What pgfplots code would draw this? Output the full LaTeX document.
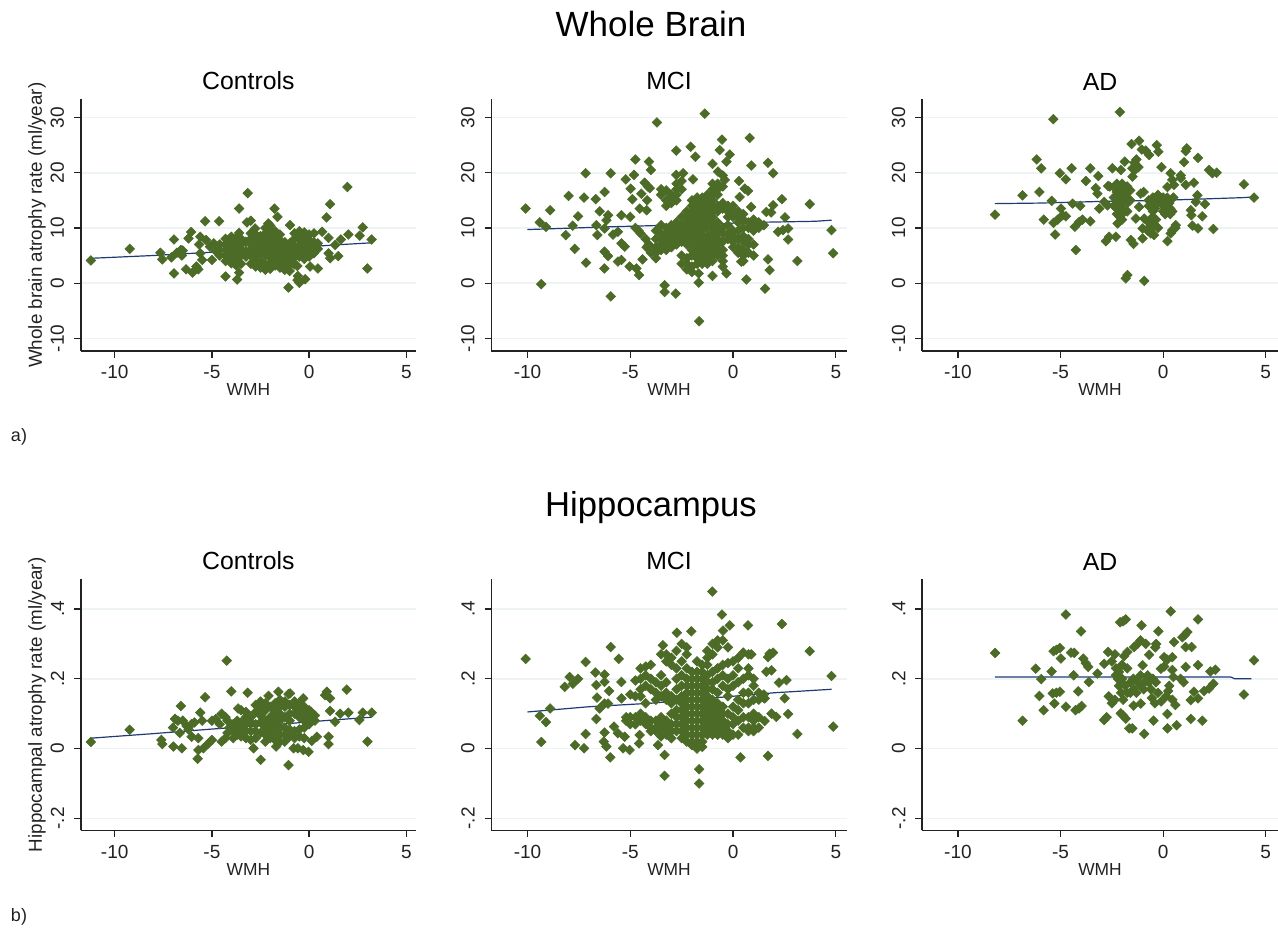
\documentclass[border=0pt]{standalone}
\usepackage{pgfplots}
\pgfplotsset{compat=1.18}
\usepackage{fontspec}
\setmainfont{Liberation Sans}
\definecolor{ptgreen}{HTML}{4C6B26}
\definecolor{fitblue}{HTML}{1F3B73}
\definecolor{gridc}{HTML}{EEF3F4}
\definecolor{inkc}{HTML}{222222}
\pgfplotsset{
  panel/.style={
    scale only axis,
    anchor=south west,
    axis x line=bottom, axis y line=left,
    axis line style={-, inkc, line width=0.8pt},
    tick style={inkc, line width=0.6pt},
    tick align=outside,
    major tick length=3.3pt,
    ymajorgrids,
    grid style={gridc, line width=0.8pt},
    clip=false,
    xtick={-10,-5,0,5},
    xticklabels={-10,-5,0,5},
    ticklabel style={font=\fontsize{9.5}{11}\selectfont, text=inkc},
    yticklabel style={rotate=90, anchor=south, yshift=1.5pt},
    xticklabel style={yshift=-0.5pt},
    xlabel={WMH},
    xlabel style={font=\fontsize{8.7}{10}\selectfont, text=inkc, yshift=4.5pt},
    title style={font=\fontsize{12.4}{14}\selectfont, text=black, yshift=-5pt},
    ylabel style={font=\fontsize{9.4}{11}\selectfont, text=inkc},
  },
  toprow/.style={panel, height=125.85pt, ymin=-12.3, ymax=33.3,
    ytick={-10,0,10,20,30}, yticklabels={-10,0,10,20,30}},
  botrow/.style={panel, height=125.5pt, ymin=-0.234, ymax=0.485,
    ytick={-0.2,0,0.2,0.4}, yticklabels={-.2,0,.2,.4}},
  colA/.style={width=167.65pt, xmin=-11.75, xmax=5.5},
  colB/.style={width=177.7pt, xmin=-11.76, xmax=5.53},
  colC/.style={width=178pt, xmin=-11.75, xmax=5.6},
  pts/.style={only marks, mark=square*, mark size=1.7pt,
    mark options={rotate=45, fill=ptgreen, draw=ptgreen, line width=0.3pt}},
  fit/.style={no marks, fitblue, line width=0.6pt},
}
\begin{document}
\begin{tikzpicture}
\path[use as bounding box] (0,0) rectangle (639pt,464pt);
\node[font=\fontsize{17.5}{20}\selectfont] at (325.5pt,452pt) {Whole Brain};
\node[font=\fontsize{17.3}{20}\selectfont] at (325.5pt,210pt) {Hippocampus};
\node[font=\fontsize{9}{11}\selectfont, text=inkc] at (9.5pt,245.5pt) {a)};
\node[font=\fontsize{9}{11}\selectfont, text=inkc] at (9.5pt,5.8pt) {b)};

% top row, whole brain
\begin{axis}[toprow, colA, at={(40.35pt,288.5pt)}, title={Controls},
  ylabel={Whole brain atrophy rate (ml/year)}, ylabel style={yshift=-4.5pt}]
\addplot[fit] coordinates {(-11.2,4.5) (-8,5.0) (-5,5.6) (0,6.6) (1.5,6.95) (3.2,7.3)};
\addplot[pts] coordinates {
(-11.23,4.1) (-9.23,6.2) (-7.65,5.5) (-7.55,4.3) (-7.08,4.65) (-6.95,7.9) (-6.95,1.75)
(-6.8,5.5) (-6.6,6) (-6.5,5.9) (-6.55,5) (-6.2,8.1) (-6.07,9.25) (-6.33,2.5) (-6,1.9)
(-5.8,3) (-5.5,4.2) (-5.6,5.4) (-5.66,7) (-5.6,8.4) (-5.35,11.2) (-4.63,11.2) (-5,4.2)
(-5.3,7.8) (-5.1,6.6) (-4.9,7.2) (-4.8,5.8) (-5.7,2.5)
(1.97,17.4) (-3.16,16.3) (1.08,14.3) (-3.6,13.5) (-1.78,13.5) (-1.63,12) (0.9,11.9)
(-3,11.3) (-3.2,11) (-0.98,10.5) (2.76,10.1) (-2.1,10.8) (-2.78,9.9) (-3.6,9.1) (0.67,9.3)
(1,8.2) (2.02,8.8) (2.6,8.6) (1.63,7.9) (3.22,7.9) (1.34,6.9) (1,5.4) (1.08,4.5) (1.5,4.9)
(3,2.65) (0.45,2.65) (0.05,3) (-0.6,3.1) (-0.2,0.7) (-0.6,0.55) (-0.58,1.3) (-0.5,0.05)
(-1.06,-0.8) (-4.3,1.2) (-3.6,1.9) (-3.7,0.65)
(-4.6,5) (-4.6,6) (-4.6,7)
(-4.3,4) (-4.3,5) (-4.3,6) (-4.3,7) (-4.3,8)
(-4,3.6) (-4,4.6) (-4,5.6) (-4,6.6) (-4,7.6) (-4,8.4)
(-3.75,3.2) (-3.75,4.2) (-3.75,5.2) (-3.75,6.2) (-3.75,7.2) (-3.75,8.2)
(-3.5,3.5) (-3.5,5) (-3.5,6) (-3.5,7) (-3.5,8)
(-3.25,4.8) (-3.25,5.8) (-3.25,7.5)
(-3,3.5) (-3,5) (-3,6) (-3,7) (-3,8) (-3,9)
(-2.75,3) (-2.75,4) (-2.75,5) (-2.75,5.9) (-2.75,6.9) (-2.75,7.9) (-2.75,8.8)
(-2.5,2.8) (-2.5,4) (-2.5,5.5) (-2.5,6.5) (-2.5,7.5) (-2.5,8.5)
(-2.25,2.4) (-2.25,3.4) (-2.25,5) (-2.25,6) (-2.25,7) (-2.25,8) (-2.25,9) (-2.25,10)
(-2,2.6) (-2,3.6) (-2,4.6) (-2,5.6) (-2,6.6) (-2,7.6) (-2,8.6) (-2,9.6) (-2,10.4)
(-1.75,3.2) (-1.75,4.4) (-1.75,5.4) (-1.75,6.4) (-1.75,7.4) (-1.75,8.4) (-1.75,9.4)
(-1.5,2.8) (-1.5,3.8) (-1.5,4.8) (-1.5,5.8) (-1.5,6.8) (-1.5,7.8) (-1.5,8.8)
(-1.25,2.4) (-1.25,3.4) (-1.25,4.4) (-1.25,5.4) (-1.25,6.4) (-1.25,7.4)
(-1,2.2) (-1,3.2) (-1,4.2) (-1,5.2) (-1,6.2) (-1,7.2)
(-.75,3.4) (-.75,4.6) (-.75,5.6) (-.75,6.6) (-.75,8) (-.75,9)
(-.5,4.8) (-.5,5.8) (-.5,6.8) (-.5,7.8) (-.5,8.8) (-.5,9.4)
(-.25,4.4) (-.25,5.4) (-.25,6.4) (-.25,7.4) (-.25,8.4) (-.25,9.2)
(0,4.8) (0,5.8) (0,6.8) (0,7.8) (0,8.8)
(.25,5.4) (.25,6.4) (.25,7.4) (.25,9) (.45,6.2) (.45,7.2)
};
\end{axis}

\begin{axis}[toprow, colB, at={(245.65pt,288.5pt)}, title={MCI}]
\addplot[fit] coordinates {(-10,9.7) (-6,10.2) (-2,10.6) (1,11) (4,11.2) (4.8,11.4)};
\addplot[pts] coordinates {
(-10.09,13.5) (-9.4,11) (-9.1,10.2) (-9.33,-0.2) (-8.9,13.2) (-8,15.8) (-8.14,8.7) (-7.8,10.4)
(-7.7,6.2) (-7.54,12.1) (-7.25,15.5) (-7.17,19.9) (-7.15,3.7) (-6.68,15.2) (-6.49,13) (-6.6,8.7)
(-6.65,10.5) (-6.25,16.5) (-6.26,2.65) (-5.95,19.9) (-5.95,-2.4) (-6.08,12.3) (-6.16,11.4)
(-6.25,9.9) (-6.25,5.7) (-6.08,4.9) (-5.84,8.8) (-5.6,9.3) (-5.43,12.3) (-5.22,18.8) (-5.43,7.2)
(-5.27,6.6) (-5.43,4.2) (-5.6,3.9) (-4.98,17.1) (-4.9,15.2) (-5,12) (-4.82,19.6) (-4.75,22.4)
(-5.03,3) (-4.7,2.65) (-4.57,1.45) (-4.09,22) (-4,20.5) (-4.3,18.2) (-4.14,17.5) (-4.05,17.2)
(-4.46,16.2) (-4.18,15) (-4.54,13.5) (-4.2,13.2) (-3.7,29.1) (-1.38,30.7) (-2.76,24) (-2.06,24.7)
(-1.83,22.9) (-0.54,26) (0.81,26.3) (-0.65,24.1) (-0.16,23.3) (-0.32,22) (-1,21.6) (0.89,21.3)
(1.7,21.8) (1.95,19.9) (-2.43,19.9) (-2.76,19.6) (-1.95,18.8) (-0.73,20.2) (-0.5,19.5) (-0.4,18.7)
(0.29,18.5) (0.57,17.1) (0.73,16.7) (0.32,15.6) (2.38,15.2) (3.73,14.3) (0.88,13.8) (1.95,14.1)
(1.62,12.9) (1.85,12.8) (2.53,11.9) (2.43,9.6) (2.19,9.3) (2.68,9.9) (2.68,7.9) (4.79,9.6)
(4.87,5.4) (3.13,4) (1.7,4.3) (1.78,2.35) (1.56,-1) (0.65,0.65) (-1,1.3) (-0.32,1.75) (-1.67,1.75)
(-1.67,0.1) (-1.65,-6.9) (-3.33,-0.4) (-3.33,-1.6) (-2.79,-1.9) (0.4,3.9)
(-4.75,10) (-4.5,9) (-4.25,8) (-4.2,6.5) (-4,5.5) (-4.4,4.3) (-4.6,9.5) (-4.1,7)
(-3.75,4.5) (-3.75,5.5) (-3.75,6.5) (-3.75,8) (-3.75,9.5)
(-3.5,6) (-3.5,7) (-3.5,8) (-3.5,9) (-3.5,10.5) (-3.5,16) (-3.5,17)
(-3.25,6) (-3.25,7) (-3.25,8) (-3.25,9) (-3.25,10) (-3.25,14) (-3.25,15) (-3.25,16.8)
(-3,6.5) (-3,7.5) (-3,8.5) (-3,9.5) (-3,10.5) (-3,14.5) (-3,15.5) (-3,16)
(-2.75,7) (-2.75,8) (-2.75,9) (-2.75,10) (-2.75,11) (-2.75,15) (-2.75,16) (-2.75,17) (-2.75,18)
(-2.5,3.5) (-2.5,5) (-2.5,7.5) (-2.5,8.5) (-2.5,9.5) (-2.5,10.5) (-2.5,12) (-2.5,17) (-2.5,18.5)
(-2.25,2.5) (-2.25,3.5) (-2.25,4.5) (-2.25,7) (-2.25,8) (-2.25,9) (-2.25,10) (-2.25,11) (-2.25,12) (-2.25,13)
(-2,2) (-2,3) (-2,5) (-2,6) (-2,7) (-2,8) (-2,9) (-2,10) (-2,11) (-2,12) (-2,13) (-2,14) (-2,15)
(-1.75,3.5) (-1.75,4.5) (-1.75,5.5) (-1.75,6.5) (-1.75,7.5) (-1.75,8.5) (-1.75,9.5) (-1.75,10.5) (-1.75,11.5) (-1.75,12.5) (-1.75,13.5) (-1.75,14.5) (-1.75,15.5)
(-1.5,3.5) (-1.5,4.5) (-1.5,5.5) (-1.5,6.5) (-1.5,7.5) (-1.5,8.5) (-1.5,9.5) (-1.5,10.5) (-1.5,11.5) (-1.5,12.5) (-1.5,13.5) (-1.5,14.5) (-1.5,15.5)
(-1.25,3.5) (-1.25,4.5) (-1.25,5.5) (-1.25,6.5) (-1.25,7.5) (-1.25,8.5) (-1.25,10) (-1.25,11) (-1.25,12) (-1.25,13) (-1.25,14) (-1.25,15) (-1.25,16)
(-1,4) (-1,5) (-1,6) (-1,7) (-1,8) (-1,9) (-1,10) (-1,11) (-1,12) (-1,13) (-1,14) (-1,15) (-1,16) (-1,17) (-1,18)
(-.75,5) (-.75,6) (-.75,7) (-.75,8) (-.75,9) (-.75,10) (-.75,11) (-.75,13) (-.75,14) (-.75,16) (-.75,17) (-.75,18)
(-.5,3) (-.5,4) (-.5,5) (-.5,6) (-.5,7.5) (-.5,9) (-.5,10) (-.5,13.5) (-.5,14.5) (-.5,17.5)
(-.25,8) (-.25,9) (-.25,10.5) (-.25,12) (-.25,13) (-.25,14)
(0,6.5) (0,7.5) (0,8.5) (0,9.5) (0,12) (0,13) (0,14)
(.25,5.5) (.25,6.5) (.25,8) (.25,9.5) (.25,11) (.25,12) (.25,13)
(.5,4) (.5,5) (.5,6) (.5,7.5) (.5,8.5) (.5,10) (.5,11.5) (.5,12.5)
(.75,5.5) (.75,7) (.75,8) (.75,10) (.75,11)
(1,5) (1,7) (1,9.5) (1,10.5) (1,11.5) (1.25,10) (1.25,11) (1.5,10.5)
};
\end{axis}

\begin{axis}[toprow, colC, at={(461pt,288.5pt)}, title={AD}]
\addplot[fit] coordinates {(-8.2,14.4) (-6,14.5) (-3,14.8) (0,15) (4,15.5) (4.3,15.6)};
\addplot[pts] coordinates {
(-8.19,12.4) (-6.85,15.9) (-6.16,22.4) (-5.94,20.8) (-6.03,16.5) (-5.43,14.9) (-5.35,29.7)
(-5.82,11.5) (-5.26,8.8) (-5.34,10.9) (-5.14,11.5) (-4.9,12.3) (-4.74,12.1) (-4.98,13.5)
(-5.03,19.9) (-4.74,18.8) (-4.46,20.8) (-4.41,14.4) (-4.04,14) (-3.76,18.5) (-3.55,20.8)
(-3.16,19.4) (-4.25,6) (-4.3,10.2) (-4.09,11.1) (-3.93,11.5) (-3.55,11.2) (-3.28,17.2) (-3.2,16.2)
(-2.87,14.7) (-3.11,13.5) (-2.71,14.1) (-2.11,31) (-2.68,17.6) (-2.47,20.8) (-2.06,20.5)
(-1.87,22) (-1.54,25.2) (-1.17,25.8) (-1.5,20.8) (-1.4,21.8) (-1.3,22.4) (-1.2,21) (-1.35,20.6)
(-1.04,24.2) (-0.68,23.2) (-0.85,24) (-0.31,25) (-0.23,23.8) (-0.08,21) (.37,19.9) (.45,18.7)
(.86,19.5) (.86,19) (1.02,21.9) (1.15,24.4) (1.1,23.9) (1.7,22.7) (2.24,20.5) (2.4,19.9) (2.61,20)
(3.94,17.9) (4.43,15.5) (2.45,9.8) (1.91,12.1) (2.04,14.3) (1.67,15.9) (1.59,14.7) (1.1,17.8)
(1.5,18.2) (1.35,13.2) (1.38,12.3) (1.43,10.4) (1.7,9.9) (.45,9.6) (.62,10.5) (.37,9) (.21,7.6)
(.21,17.4) (.53,17.8) (-1.74,1.45) (-1.82,.85) (-.92,.4) (-1.44,7.1) (-1.57,7.8) (-1,8.1)
(-.44,8.7) (-2.79,7.6) (-2.63,8.4) (-2.3,8.4) (-2.22,10.8) (-1.09,16.2) (-.95,16.5) (-1.17,13.8)
(-1.33,11.7) (-.92,11.7) (-1,9.9) (-1.49,19.3) (-.6,10.5) (-.75,9.5)
(-2.6,17.5) (-2.4,17.4) (-2.4,14) (-2.4,15.5) (-2.25,12.5) (-2.25,13.5) (-2.25,14.5) (-2.25,15.5) (-2.25,16.5) (-2.25,17.5) (-2.25,18)
(-2,11.5) (-2,12.5) (-2,13.5) (-2,14.5) (-2,15.5) (-2,17) (-2,18)
(-1.75,13) (-1.75,14.5) (-1.75,15.5) (-1.75,16.5) (-1.75,17.5) (-1.6,16.8) (-1.6,15)
(-.7,11) (-.7,10) (-.7,14) (-.7,15) (-.6,9) (-.5,11) (-.5,12) (-.5,13) (-.5,14) (-.5,15.5)
(-.25,10) (-.25,15) (-.25,16) (0,13) (0,14) (0,15.5) (.1,12.5) (.2,13) (.2,14) (.2,15.5)
(.35,12.5) (.35,13.5) (.45,13) (.5,15.5) (.6,10)
(-2.1,12) (-1.9,13) (-1.9,16) (-2.1,16.5) (-.4,13.5) (-.3,14.5) (-.4,15) (-.1,14.5) (.1,14) (.3,14.5) (-.55,10) (-.35,11.5)
};
\end{axis}

% bottom row, hippocampus
\begin{axis}[botrow, colA, at={(40.35pt,48.85pt)}, title={Controls},
  ylabel={Hippocampal atrophy rate (ml/year)}, ylabel style={yshift=-4.5pt}]
\addplot[fit] coordinates {(-11.2,.03) (-8,.043) (-5,.056) (-1,.072) (1,.081) (3.2,.09)};
\addplot[pts] coordinates {
(-11.23,.019) (-9.23,.054) (-7.6,.025) (-7.55,.013) (-6.98,.006) (-6.55,.001) (-5.73,-.029)
(-4.24,.252) (-4,.164) (-3.16,.16) (-5.35,.147) (-6.6,.122) (-5.6,.103) (1.94,.169) (.91,.163)
(.82,.153) (1.08,.144) (1.08,.108) (1.6,.1) (2.02,.103) (3.22,.103) (2.76,.103) (2.59,.082) (1.34,.077)
(3,.02) (1,.034) (1,.013) (.4,.034) (.14,.022) (-.03,-.009) (-.3,-.004) (-.58,.001) (-.8,.001)
(-1.06,-.047) (-2.49,-.032) (-2.86,.001) (-1.7,.006) (-2.09,.151) (-1.58,.163) (-1.06,.156) (-.98,.158)
(-.3,.144) (-5.7,-.004) (-5.44,.001) (-5.18,.015) (-5,.025) (-6.04,.034) (-5.7,.03)
(-7,.06) (-6.9,.085) (-6.75,.08) (-6.65,.045) (-6.5,.08) (-6.2,.055) (-6.05,.07) (-5.9,.075) (-6.3,.065) (-5.5,.08) (-5,.08)
(-4.8,.085) (-4.6,.07) (-4.5,.1) (-4.3,.09) (-4.2,.08) (-4.5,.02)
(-4.3,.03) (-4.2,.045) (-4.1,.06) (-3.9,.03) (-3.9,.05) (-3.9,.07) (-3.65,.115) (-3.7,.04) (-3.7,.06) (-3.7,.08)
(-3.5,.035) (-3.5,.055) (-3.5,.075) (-3.5,.11) (-3.25,.03) (-3.25,.05) (-3.25,.07) (-3.25,.09) (-3.25,.105)
(-3,.025) (-3,.05) (-3,.075) (-3,.09) (-2.75,.03) (-2.75,.05) (-2.75,.07) (-2.75,.105) (-2.75,.125)
(-2.5,.045) (-2.5,.075) (-2.5,.095) (-2.5,.115) (-2.5,.135) (-2.25,.02) (-2.25,.04) (-2.25,.06) (-2.25,.08) (-2.25,.11) (-2.25,.13)
(-2,.03) (-2,.05) (-2,.07) (-2,.09) (-2,.12) (-1.75,.025) (-1.75,.045) (-1.75,.065) (-1.75,.085) (-1.75,.105) (-1.75,.13)
(-1.5,.02) (-1.5,.04) (-1.5,.06) (-1.5,.08) (-1.5,.1) (-1.5,.12) (-1.5,.14) (-1.25,.02) (-1.25,.04) (-1.25,.06) (-1.25,.09) (-1.25,.12) (-1.25,.135)
(-1,.035) (-1,.055) (-1,.08) (-1,.1) (-1,.125) (-.75,.03) (-.75,.05) (-.75,.1) (-.75,.12) (-.75,.135)
(-.5,.035) (-.5,.055) (-.5,.09) (-.5,.11) (-.5,.13) (-.25,.03) (-.25,.06) (-.25,.08) (-.25,.1) (-.25,.12)
(0,.07) (0,.09) (0,.11) (.1,.08) (.1,.105) (.3,.08) (.3,.095)
};
\end{axis}

\begin{axis}[botrow, colB, at={(245.65pt,48.85pt)}, title={MCI}]
\addplot[fit] coordinates {(-10,.105) (-7,.12) (-4,.13) (-1,.145) (2,.16) (4.8,.17)};
\addplot[pts] coordinates {
(-10.09,.257) (-9.4,.094) (-9.1,.076) (-8.9,.115) (-9.33,.019) (-8.19,.177) (-7.95,.205) (-7.54,.2)
(-7.79,.186) (-7.17,.248) (-7.17,.042) (-7.69,.01) (-7.25,.001) (-6.7,.218) (-6.25,.212) (-6.65,.182)
(-6.25,.191) (-6.62,.146) (-6.03,.165) (-6.65,.085) (-6.49,.115) (-6.25,.129) (-6.08,.129) (-6.25,.046)
(-6.29,.02) (-6.16,.006) (-5.97,-.025) (-5.95,.291) (-5.56,.257) (-5.43,.191) (-5.43,.144) (-5.79,.063)
(-5.6,.044) (-5.27,.034) (-5.35,.001) (-5.03,-.004) (-4.57,.015) (-4.54,.039) (-3.33,-.018) (-3.33,-.078)
(-3.65,.01) (-3.41,.296) (-2.73,.332) (-2.03,.336) (-1.01,.45) (-.54,.384) (-.16,.353) (-.49,.338)
(.73,.353) (2.38,.357) (3.73,.279) (4.79,.208) (4.87,.063) (3.13,.042) (1.7,-.021) (.36,-.025)
(-1.65,-.059) (-1.65,-.1) (2.6,.196) (2.24,.189) (2.51,.144) (2.68,.099) (1.78,.272) (1.95,.275) (1.7,.262)
(1.62,.22) (1.87,.224) (.89,.27) (1.54,.144) (1.87,.1) (2.1,.091) (1.54,.079)
(-5.2,.09) (-5.2,.08) (-5,.09) (-5,.07) (-5,.155) (-4.75,.195) (-4.75,.15) (-4.75,.09) (-4.75,.07)
(-4.5,.23) (-4.5,.2) (-4.5,.17) (-4.5,.15) (-4.5,.1) (-4.5,.08) (-4.25,.235) (-4.25,.21) (-4.25,.18) (-4.25,.13) (-4.25,.09) (-4.25,.07)
(-4,.24) (-4,.2) (-4,.17) (-4,.08) (-4,.06) (-4,.05) (-3.75,.19) (-3.75,.16) (-3.75,.14) (-3.75,.08) (-3.75,.06) (-3.75,.05)
(-3.5,.27) (-3.5,.21) (-3.5,.18) (-3.5,.15) (-3.5,.09) (-3.5,.07) (-3.5,.05) (-3.5,.035)
(-3.25,.27) (-3.25,.25) (-3.25,.19) (-3.25,.16) (-3.25,.14) (-3.25,.08) (-3.25,.06) (-3.25,.04)
(-3,.26) (-3,.24) (-3,.15) (-3,.13) (-3,.1) (-3,.07) (-3,.05) (-3,.03)
(-2.75,.28) (-2.75,.23) (-2.75,.2) (-2.75,.17) (-2.75,.14) (-2.75,.11) (-2.75,.09) (-2.75,.07) (-2.75,.05)
(-2.5,.3) (-2.5,.25) (-2.5,.21) (-2.5,.18) (-2.5,.15) (-2.5,.13) (-2.5,.11) (-2.5,.09) (-2.5,.07) (-2.5,.05) (-2.5,.03)
(-2.25,.29) (-2.25,.27) (-2.25,.23) (-2.25,.2) (-2.25,.18) (-2.25,.16) (-2.25,.14) (-2.25,.12) (-2.25,.1) (-2.25,.08) (-2.25,.06) (-2.25,.04) (-2.25,.02)
(-2,.22) (-2,.2) (-2,.18) (-2,.16) (-2,.14) (-2,.12) (-2,.1) (-2,.08) (-2,.06) (-2,.04) (-2,.02) (-2,.01)
(-1.75,.25) (-1.75,.22) (-1.75,.2) (-1.75,.18) (-1.75,.16) (-1.75,.14) (-1.75,.12) (-1.75,.1) (-1.75,.08) (-1.75,.06) (-1.75,.04) (-1.75,.02) (-1.75,0)
(-1.5,.24) (-1.5,.22) (-1.5,.2) (-1.5,.18) (-1.5,.16) (-1.5,.14) (-1.5,.12) (-1.5,.1) (-1.5,.08) (-1.5,.06) (-1.5,.04) (-1.5,.02) (-1.5,.005)
(-1.25,.28) (-1.25,.26) (-1.25,.24) (-1.25,.21) (-1.25,.19) (-1.25,.17) (-1.25,.15) (-1.25,.13) (-1.25,.11) (-1.25,.09) (-1.25,.07) (-1.25,.05) (-1.25,.04)
(-1,.3) (-1,.27) (-1,.22) (-1,.19) (-1,.17) (-1,.14) (-1,.12) (-1,.1) (-1,.08) (-1,.06) (-1,.04)
(-.75,.31) (-.75,.29) (-.75,.23) (-.75,.2) (-.75,.16) (-.75,.13) (-.75,.11) (-.75,.09) (-.75,.07) (-.75,.05) (-.75,.04)
(-.5,.31) (-.5,.24) (-.5,.21) (-.5,.18) (-.5,.12) (-.5,.1) (-.5,.08) (-.5,.06) (-.5,.04)
(-.25,.29) (-.25,.245) (-.25,.2) (-.25,.17) (-.25,.15) (-.25,.1) (-.25,.07) (-.25,.05) (-.25,.03)
(0,.25) (0,.21) (0,.18) (0,.12) (0,.09) (0,.07) (0,.04) (.25,.26) (.25,.23) (.25,.19) (.25,.14) (.25,.11) (.25,.08) (.25,.04)
(.5,.275) (.5,.2) (.5,.16) (.5,.13) (.5,.09) (.5,.06) (.75,.27) (.75,.23) (.75,.21) (.75,.16) (.75,.13) (.75,.09) (.75,.06) (.75,.05)
(1,.2) (1,.18) (1,.14) (1,.1) (1,.08) (1,.06) (1,.05) (1.25,.16) (1.25,.14) (1.25,.09) (1.25,.06) (1.5,.145) (1.5,.155)
};
\end{axis}

\begin{axis}[botrow, colC, at={(461pt,48.85pt)}, title={AD}]
\addplot[fit] coordinates {(-8.2,.205) (-4,.205) (0,.205) (3.3,.205) (3.5,.2) (4.3,.2)};
\addplot[pts] coordinates {
(-8.19,.274) (-6.85,.08) (-6.21,.229) (-5.94,.199) (-6.03,.151) (-5.43,.221) (-4.74,.384) (-4,.336)
(-5.34,.279) (-5.2,.283) (-5.03,.288) (-4.98,.258) (-5.82,.11) (-5.3,.129) (-5.38,.158) (-5.03,.163) (-5.2,.16)
(-4.74,.12) (-4.49,.275) (-4.33,.274) (-4.36,.21) (-4.14,.164) (-4.27,.11) (-3.97,.122) (-4.1,.115)
(-3.89,.258) (-3.65,.234) (-3.77,.245) (-3.2,.215) (-3.62,.191) (-2.87,.243) (-2.87,.082) (-2.75,.09) (-2.68,.277)
(-2.09,.362) (-1.82,.37) (-1.95,.365) (-1.05,.353) (-.23,.336) (.37,.393) (1.7,.37) (.94,.319) (1.05,.325) (1.18,.334)
(1.1,.291) (1.39,.291) (4.43,.253) (3.94,.155) (1.7,.239) (1.1,.234) (2.3,.221) (2.55,.226) (2.45,.186)
(2.24,.172) (2,.165) (1.5,.163) (1.35,.139) (1.7,.144) (1.35,.085) (1.91,.08) (.66,.067) (.21,.058) (.21,.099)
(-.47,.08) (-.92,.042) (-1.65,.058) (-1.5,.058) (-2.06,.101) (-1.82,.086) (-1.95,.095) (-1.44,.123) (-1.09,.129)
(-1,.239) (-.68,.269) (-.34,.3) (-.85,.3) (-1.41,.291) (-1.25,.3) (-1.1,.31) (-1.74,.277) (-1.9,.265) (.53,.305) (.05,.262) (.2,.255) (.45,.262)
(-.11,.229) (.05,.235) (-.38,.29) (.45,.225) (.5,.205) (1,.19) (.85,.2) (.3,.18) (.25,.165) (.15,.15) (.45,.14) (.6,.125) (-.1,.135)
(-2.65,.15) (-2.5,.13) (-2.35,.14) (-2.5,.25) (-2.35,.27) (-2.3,.23) (-2.3,.21) (-2.2,.2) (-2.15,.18) (-2.15,.22)
(-2.05,.16) (-2,.2) (-2,.24) (-1.95,.14) (-1.85,.18) (-1.75,.23) (-1.75,.16) (-1.6,.19) (-1.6,.16) (-1.45,.17) (-1.45,.2)
(-1.3,.16) (-1.25,.19) (-1.1,.18) (-1.1,.21) (-.95,.17) (-.9,.19) (-.75,.21) (-.7,.19) (-.6,.17) (-.55,.145) (-.4,.13) (-.5,.2) (-.35,.19) (-.25,.16)
};
\end{axis}
\end{tikzpicture}
\end{document}
